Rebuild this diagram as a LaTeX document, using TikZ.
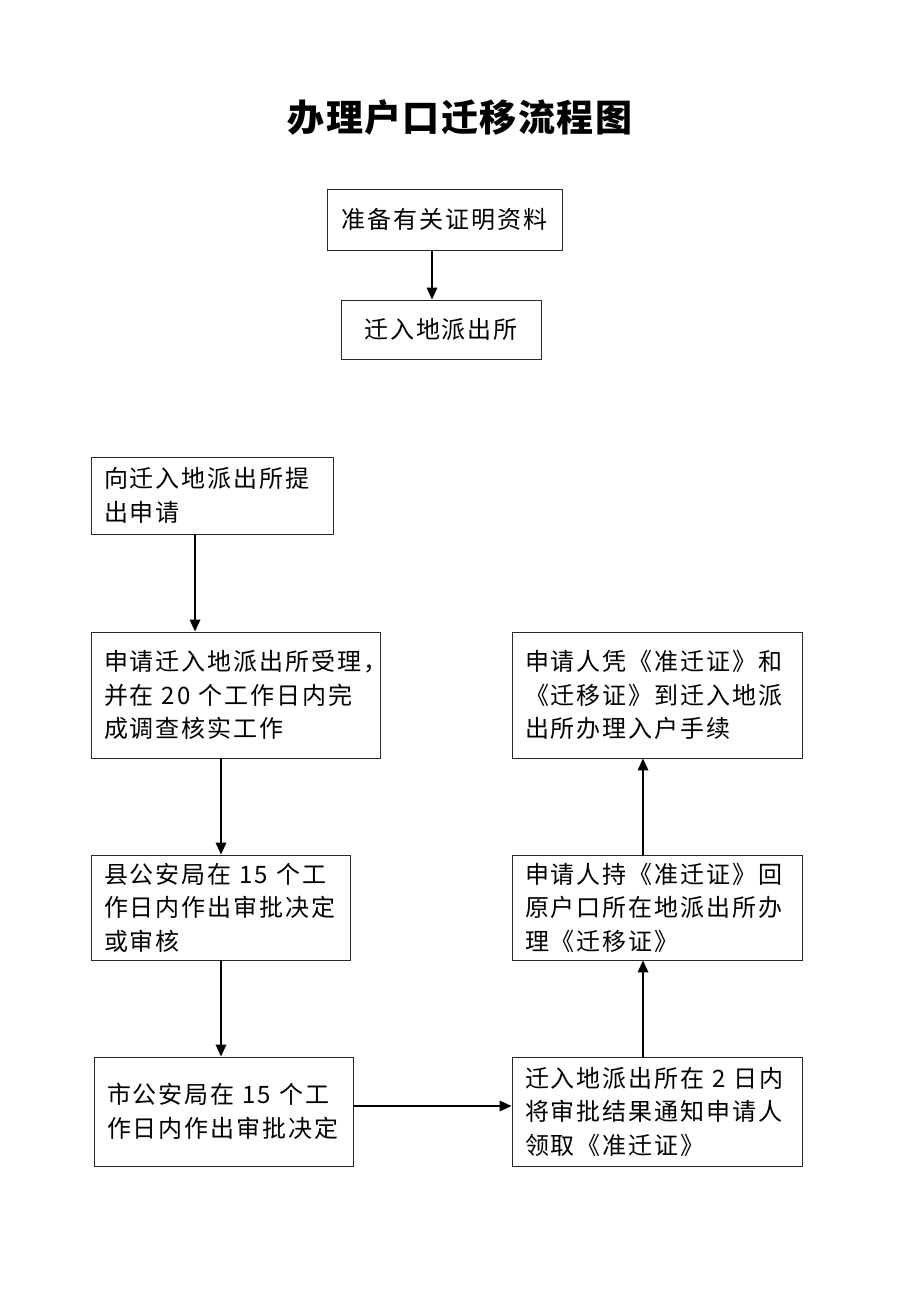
\documentclass[tikz,border=0pt]{standalone}
\usepackage{fontspec}
\setmainfont[LetterSpace=8]{Noto Sans CJK SC}
\newfontfamily\titlefont[LetterSpace=4]{Noto Sans CJK SC}
\usepackage{tikz}
\usetikzlibrary{arrows.meta,positioning}
\definecolor{boxline}{RGB}{40,40,40}

\tikzset{
  box/.style={draw=boxline,line width=0.9pt,inner xsep=13pt,inner ysep=0pt,
    font=\fontsize{24}{33.5}\selectfont},
  leftbox/.style 2 args={box,align=left,minimum height=#2,text width=#1},
  midbox/.style 2 args={box,align=center,minimum width=#1,minimum height=#2},
  arr/.style={line width=1.8pt,-{Triangle[width=10.5pt,length=12pt]}}
}

\begin{document}
\begin{tikzpicture}[x=1pt,y=-1pt]
    \useasboundingbox (0,0) rectangle (920,1300);
    % Titulo
    \node (title) at (460,117) {\titlefont\bfseries\fontsize{37}{40}\selectfont 办理户口迁移流程图};
    % Parte superior
    \node[midbox={235pt}{61pt}] (prep) at (444.5,219.5) {准备有关证明资料};
    \node[midbox={200pt}{59pt}] (movein) at (441,329.5) {迁入地派出所};
    % Columna izquierda
    \node[leftbox={216pt}{77pt}] (apply) at (212,495.5) {向迁入地派出所提\\出申请};
    \node[leftbox={263pt}{126pt}] (accept) at (235.5,695) {申请迁入地派出所受理，\\并在 20 个工作日内完\\成调查核实工作};
    \node[leftbox={233pt}{105pt}] (county) at (220.5,907.5) {县公安局在 15 个工\\作日内作出审批决定\\或审核};
    \node[leftbox={233pt}{109pt}] (city) at (223.5,1111.5) {市公安局在 15 个工\\作日内作出审批决定};
    % Columna derecha
    \node[leftbox={264pt}{109pt}] (notify) at (657,1111.5) {迁入地派出所在 2 日内\\将审批结果通知申请人\\领取《准迁证》};
    \node[leftbox={264pt}{105pt}] (getcert) at (657,907.5) {申请人持《准迁证》回\\原户口所在地派出所办\\理《迁移证》};
    \node[leftbox={264pt}{126pt}] (register) at (657,695) {申请人凭《准迁证》和\\《迁移证》到迁入地派\\出所办理入户手续};
    % Flechas
    \draw[arr] ([xshift=-12.5pt]prep.south) -- ([xshift=-9pt]movein.north);
    \draw[arr] ([xshift=-17pt]apply.south) -- ([xshift=-40.5pt]accept.north);
    \draw[arr] ([xshift=-14.5pt]accept.south) -- ([xshift=0.5pt]county.north);
    \draw[arr] ([xshift=0.5pt]county.south) -- ([xshift=-2.5pt]city.north);
    \draw[arr] ([yshift=5.5pt]city.east) -- ([yshift=5.5pt]notify.west);
    \draw[arr] ([xshift=-14pt]notify.north) -- ([xshift=-14pt]getcert.south);
    \draw[arr] ([xshift=-14pt]getcert.north) -- ([xshift=-14pt]register.south);
  \end{tikzpicture}
\end{document}
